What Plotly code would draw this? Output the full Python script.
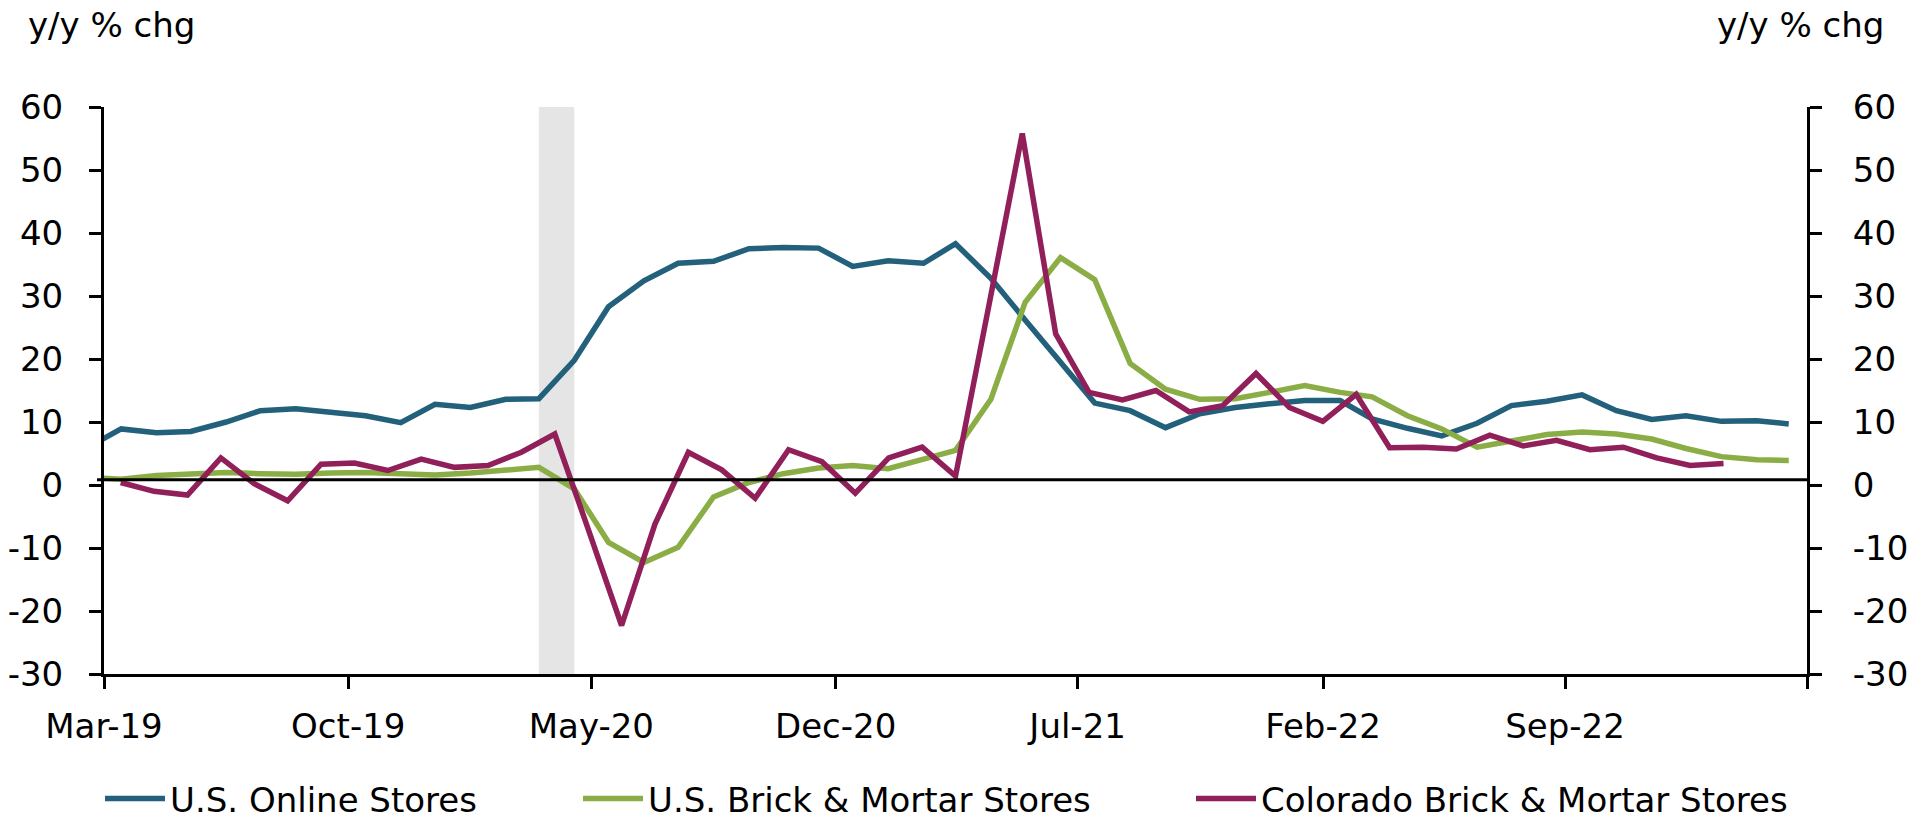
import pandas as pd
import plotly.graph_objects as go

# ---------------- data ----------------
# U.S. series: monthly, Feb-19 .. Mar-23 (Feb-19 lies just left of the visible range)
us_months = pd.date_range("2019-02-01", periods=50, freq="MS") + pd.Timedelta(days=15)

us_online = [6.1, 8.9, 8.3, 8.5, 10.0, 11.8, 12.1, 11.6, 11.0, 9.9, 12.8, 12.3, 13.6,
             13.7, 19.8, 28.3, 32.4, 35.2, 35.5, 37.5, 37.7, 37.6, 34.7, 35.6, 35.2,
             38.3, 32.8, 26.2, 19.6, 13.0, 11.8, 9.1, 11.3, 12.3, 12.9, 13.4, 13.4,
             10.5, 9.0, 7.8, 9.8, 12.6, 13.3, 14.3, 11.8, 10.4, 11.0, 10.1, 10.2, 9.7]

us_brick = [1.2, 0.9, 1.5, 1.8, 2.0, 1.8, 1.7, 1.9, 2.0, 1.8, 1.6, 1.9, 2.4,
            2.8, -0.6, -9.1, -12.3, -9.9, -1.9, 0.4, 1.8, 2.7, 3.1, 2.6, 4.1,
            5.5, 13.6, 29.0, 36.1, 32.6, 19.3, 15.2, 13.6, 13.7, 14.7, 15.8, 14.7,
            14.0, 11.0, 8.9, 6.0, 7.0, 8.0, 8.4, 8.1, 7.3, 5.8, 4.5, 4.0, 3.9]

# Colorado series: plotted against its own (hidden) category axis of 51 months
co_categories = [d.strftime("%b-%y") for d in pd.date_range("2019-03-01", periods=51, freq="MS")]
co_months = co_categories[:49]
co_brick = [0.4, -1.0, -1.6, 4.3, 0.2, -2.5, 3.3, 3.5, 2.3, 4.1, 2.8, 3.1, 5.2,
            8.1, -7.0, -22.3, -6.2, 5.2, 2.4, -2.1, 5.6, 3.7, -1.3, 4.3, 6.0,
            1.4, 28.5, 55.8, 24.0, 14.7, 13.5, 15.0, 11.6, 12.6, 17.7, 12.3, 10.1,
            14.4, 5.9, 6.0, 5.7, 7.9, 6.2, 7.1, 5.6, 6.0, 4.3, 3.1, 3.4]

tick_dates = pd.date_range("2019-03-01", periods=8, freq="7MS")
tick_text = [d.strftime("%b-%y") for d in tick_dates[:-1]] + [""]

y_ticks = [-30, -20, -10, 0, 10, 20, 30, 40, 50, 60]
y_ticktext = [str(v) for v in y_ticks]

recession = (us_months[13], us_months[14])   # Mar-20 .. Apr-20 points

# ---------------- style ----------------
W, H = 1921, 822
ML, MR, MT, MB = 104, 114, 107, 148
PW, PH = W - ML - MR, H - MT - MB

FONT = "DejaVu Sans, Verdana, sans-serif"
FS = 34
BLUE = "#22607B"
GREEN = "#8AAE45"
PURPLE = "#901F5A"
LW = 5.5


def px_x(xpix):
    return (xpix - ML) / PW


def px_y(ypix):
    return (H - MB - ypix) / PH


fig = go.Figure()
fig.add_trace(go.Scatter(x=us_months, y=us_online, name="U.S. Online Stores", mode="lines",
                         line=dict(color=BLUE, width=LW), legend="legend"))
fig.add_trace(go.Scatter(x=us_months, y=us_brick, name="U.S. Brick & Mortar Stores", mode="lines",
                         line=dict(color=GREEN, width=LW), legend="legend2"))
fig.add_trace(go.Scatter(x=co_months, y=co_brick, name="Colorado Brick & Mortar Stores", mode="lines",
                         line=dict(color=PURPLE, width=LW), xaxis="x2", yaxis="y2", legend="legend3"))

axis_common = dict(showline=True, linecolor="black", linewidth=3, ticks="outside", ticklen=12,
                   tickwidth=3, tickcolor="black", showgrid=False, zeroline=False, automargin=False,
                   tickfont=dict(family=FONT, size=FS, color="black"))

legend_common = dict(orientation="h", xanchor="left", yref="container", y=1 - 799 / H, yanchor="middle",
                     bgcolor="rgba(0,0,0,0)", font=dict(family=FONT, size=FS, color="black"),
                     itemwidth=60)

fig.update_layout(
    template="none",
    width=W, height=H,
    margin=dict(l=ML, r=MR, t=MT, b=MB, pad=0),
    paper_bgcolor="white", plot_bgcolor="white",
    font=dict(family=FONT, size=FS, color="black"),
    xaxis=dict(type="date", range=["2019-03-01", "2023-04-01"], tickvals=tick_dates, ticktext=tick_text,
               ticklabelstandoff=8, **axis_common),
    xaxis2=dict(type="category", overlaying="x", range=[-0.5, 50.5], categoryorder="array",
                categoryarray=co_categories, visible=False, anchor="y2", automargin=False),
    yaxis=dict(range=[-30, 60], tickvals=y_ticks, ticktext=y_ticktext, ticklabelstandoff=19,
               **axis_common),
    yaxis2=dict(range=[-30, 60], tickvals=y_ticks, ticktext=y_ticktext, overlaying="y", side="right",
                anchor="x", ticklabelstandoff=24, **axis_common),
    showlegend=True,
    legend=dict(x=px_x(100), **legend_common),
    legend2=dict(x=px_x(578), **legend_common),
    legend3=dict(x=px_x(1191), **legend_common),
    shapes=[
        dict(type="rect", xref="x", yref="y", x0=recession[0], x1=recession[1], y0=-30, y1=60,
             fillcolor="#E5E5E5", line=dict(width=0), layer="below"),
        dict(type="line", xref="paper", yref="y", x0=px_x(97), x1=1, y0=0.85, y1=0.85,
             line=dict(color="black", width=3)),
    ],
    annotations=[
        dict(text="y/y % chg", xref="paper", yref="paper", x=px_x(26), y=px_y(25),
             xanchor="left", yanchor="middle", showarrow=False,
             font=dict(family=FONT, size=FS, color="black")),
        dict(text="y/y % chg", xref="paper", yref="paper", x=px_x(1886), y=px_y(25),
             xanchor="right", yanchor="middle", showarrow=False,
             font=dict(family=FONT, size=FS, color="black")),
    ],
)

fig.write_html("out.html", config={"responsive": False, "displayModeBar": False},
               post_script="document.body.style.margin='0';document.body.style.overflow='hidden';")
